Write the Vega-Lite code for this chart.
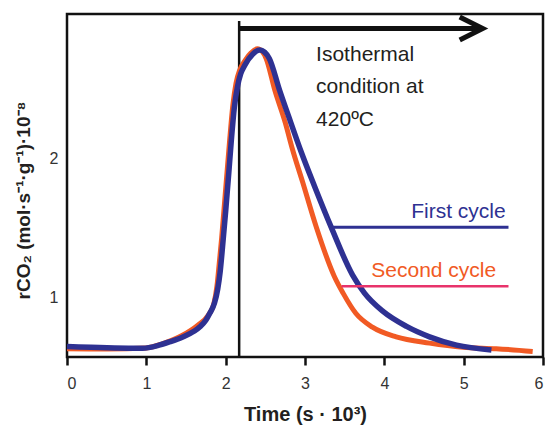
{
  "$schema": "https://vega.github.io/schema/vega-lite/v6.json",
  "width": 476,
  "height": 343,
  "autosize": {"type": "none"},
  "padding": {"left": 67, "top": 14, "right": 7, "bottom": 68},
  "background": "white",
  "config": {
    "font": "Liberation Sans",
    "view": {"stroke": "#111111", "strokeWidth": 2.5},
    "axis": {"grid": false, "labelFont": "Liberation Sans", "titleFont": "Liberation Sans", "labelColor": "#333333", "titleColor": "#231f20"}
  },
  "datasets": {
    "first": [
      {"t": 0.0, "r": 0.645}, {"t": 0.3, "r": 0.64}, {"t": 0.6, "r": 0.635}, {"t": 0.95, "r": 0.633},
      {"t": 1.16, "r": 0.655}, {"t": 1.3, "r": 0.68}, {"t": 1.46, "r": 0.714}, {"t": 1.6, "r": 0.755},
      {"t": 1.68, "r": 0.79}, {"t": 1.75, "r": 0.835}, {"t": 1.8, "r": 0.885}, {"t": 1.86, "r": 0.96},
      {"t": 1.9, "r": 1.06}, {"t": 1.93, "r": 1.18}, {"t": 1.96, "r": 1.36}, {"t": 2.0, "r": 1.62},
      {"t": 2.04, "r": 1.9}, {"t": 2.07, "r": 2.12}, {"t": 2.11, "r": 2.37}, {"t": 2.15, "r": 2.52},
      {"t": 2.19, "r": 2.61}, {"t": 2.24, "r": 2.67}, {"t": 2.34, "r": 2.75},
      {"t": 2.43, "r": 2.78}, {"t": 2.49, "r": 2.765}, {"t": 2.55, "r": 2.72}, {"t": 2.68, "r": 2.49},
      {"t": 2.82, "r": 2.26}, {"t": 2.95, "r": 2.05}, {"t": 3.12, "r": 1.8}, {"t": 3.33, "r": 1.505},
      {"t": 3.6, "r": 1.16}, {"t": 3.75, "r": 1.03}, {"t": 3.98, "r": 0.9}, {"t": 4.28, "r": 0.79},
      {"t": 4.57, "r": 0.715}, {"t": 4.91, "r": 0.655}, {"t": 5.35, "r": 0.62}
    ],
    "second": [
      {"t": 0.0, "r": 0.63}, {"t": 0.5, "r": 0.628}, {"t": 1.0, "r": 0.635}, {"t": 1.2, "r": 0.665},
      {"t": 1.45, "r": 0.725}, {"t": 1.65, "r": 0.8}, {"t": 1.78, "r": 0.87}, {"t": 1.85, "r": 0.95},
      {"t": 1.89, "r": 1.08}, {"t": 1.92, "r": 1.25}, {"t": 1.95, "r": 1.43}, {"t": 1.98, "r": 1.64},
      {"t": 2.02, "r": 1.92}, {"t": 2.05, "r": 2.13}, {"t": 2.09, "r": 2.38}, {"t": 2.13, "r": 2.54},
      {"t": 2.18, "r": 2.64}, {"t": 2.25, "r": 2.71}, {"t": 2.32, "r": 2.76}, {"t": 2.4, "r": 2.79},
      {"t": 2.46, "r": 2.77}, {"t": 2.51, "r": 2.72}, {"t": 2.62, "r": 2.49}, {"t": 2.75, "r": 2.26},
      {"t": 2.84, "r": 2.07}, {"t": 2.97, "r": 1.83}, {"t": 3.14, "r": 1.51}, {"t": 3.37, "r": 1.15},
      {"t": 3.48, "r": 1.03}, {"t": 3.64, "r": 0.885}, {"t": 3.85, "r": 0.785}, {"t": 4.15, "r": 0.715},
      {"t": 4.57, "r": 0.67}, {"t": 4.99, "r": 0.64}, {"t": 5.41, "r": 0.63}, {"t": 5.87, "r": 0.61}
    ],
    "notes": [
      {"t": 3.14, "r": 2.7, "label": "Isothermal"},
      {"t": 3.14, "r": 2.468, "label": "condition at"},
      {"t": 3.14, "r": 2.23, "label": "420ºC"}
    ]
  },
  "encoding": {
    "x": {
      "field": "t", "type": "quantitative",
      "scale": {"domain": [0, 6], "nice": false, "zero": false},
      "axis": {
        "title": "Time (s · 10³)", "titleFontSize": 20, "titleFontWeight": "bold", "titlePadding": 13,
        "values": [0, 1, 2, 3, 4, 5, 6], "format": "d", "domain": false,
        "tickColor": "#111111", "tickWidth": 2.5, "tickSize": 8, "labelFontSize": 16, "labelPadding": 10
      }
    },
    "y": {
      "field": "r", "type": "quantitative",
      "scale": {"domain": [0.57, 3.04], "nice": false, "zero": false},
      "axis": {
        "title": "rCO₂ (mol·s⁻¹·g⁻¹)·10⁻⁸", "titleFontSize": 19, "titleFontWeight": "bold", "titlePadding": 16,
        "titleY": 186,
        "values": [1, 2], "format": "d", "domain": false, "ticks": false,
        "labelFontSize": 16, "labelPadding": 9
      }
    }
  },
  "layer": [
    {
      "data": {"values": [{"t": 2.17, "r": 0.57, "r2": 2.99}]},
      "mark": {"type": "rule", "color": "#111111", "strokeWidth": 2.5},
      "encoding": {"y2": {"field": "r2"}}
    },
    {
      "data": {"values": [{"t": 2.17, "t2": 5.2, "r": 2.935}]},
      "mark": {"type": "rule", "color": "#111111", "strokeWidth": 5},
      "encoding": {"x2": {"field": "t2"}}
    },
    {
      "data": {"values": [{"t": 5.24, "r": 2.935}]},
      "mark": {"type": "point", "shape": "M-1,-0.5L0,0L-1,0.5", "size": 2116, "filled": false, "stroke": "#111111", "strokeWidth": 5, "opacity": 1, "strokeJoin": "miter"}
    },
    {
      "data": {"name": "second"},
      "mark": {"type": "line", "color": "#f15a24", "strokeWidth": 5, "interpolate": "monotone"}
    },
    {
      "data": {"name": "first"},
      "mark": {"type": "line", "color": "#2e3192", "strokeWidth": 5.5, "interpolate": "monotone"}
    },
    {
      "data": {"values": [{"t": 3.33, "t2": 5.565, "r": 1.504}]},
      "mark": {"type": "rule", "color": "#2e3192", "strokeWidth": 3},
      "encoding": {"x2": {"field": "t2"}}
    },
    {
      "data": {"values": [{"t": 3.46, "t2": 5.565, "r": 1.079}]},
      "mark": {"type": "rule", "color": "#e8336b", "strokeWidth": 2.5},
      "encoding": {"x2": {"field": "t2"}}
    },
    {
      "data": {"values": [{"t": 5.53, "r": 1.568, "label": "First cycle"}]},
      "mark": {"type": "text", "align": "right", "baseline": "alphabetic", "fontSize": 21, "color": "#2e3192"},
      "encoding": {"text": {"field": "label"}}
    },
    {
      "data": {"values": [{"t": 5.41, "r": 1.144, "label": "Second cycle"}]},
      "mark": {"type": "text", "align": "right", "baseline": "alphabetic", "fontSize": 21, "color": "#f15a24"},
      "encoding": {"text": {"field": "label"}}
    },
    {
      "data": {"name": "notes"},
      "mark": {"type": "text", "align": "left", "baseline": "alphabetic", "fontSize": 21, "color": "#231f20"},
      "encoding": {"text": {"field": "label"}}
    }
  ]
}
